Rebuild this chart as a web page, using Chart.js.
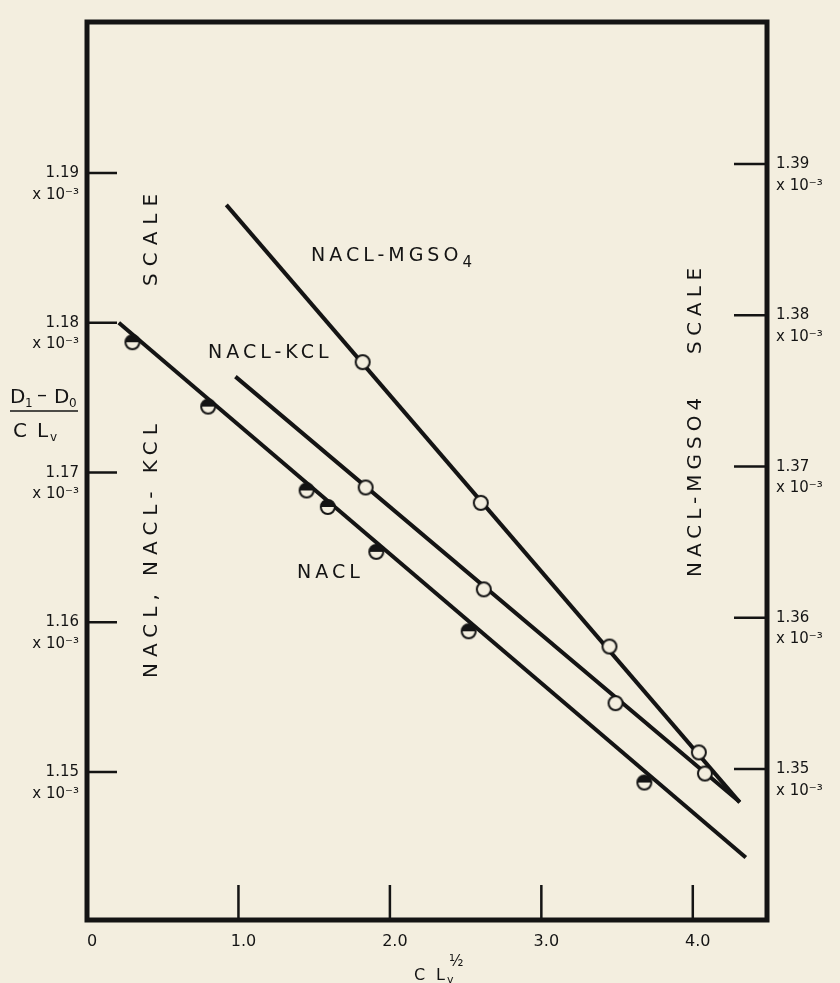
<!DOCTYPE html>
<html>
<head>
<meta charset="utf-8">
<script src="https://cdn.jsdelivr.net/npm/chart.js@4"></script>
<style>
  html, body { margin: 0; padding: 0; background: #f3eedf; }
  canvas { display: block; }
</style>
</head>
<body>
<canvas id="chart" width="840" height="983"></canvas>
<script>
// (D1 - D0) / (C Lv), in units of 10^-3, against C Lv ^ 1/2
const naclX = [0.30, 0.80, 1.45, 1.59, 1.91, 2.52, 3.68];
const naclY = [1.1787, 1.1744, 1.1688, 1.1677, 1.1647, 1.1594, 1.1493];
const kclX = [1.84, 2.62, 3.49, 4.08];
const kclY = [1.1690, 1.1622, 1.1546, 1.1499];
const mgso4X = [1.82, 2.60, 3.45, 4.04];
const mgso4Y = [1.3769, 1.3676, 1.3581, 1.3511];   // right hand scale

// drawn straight lines, end points
const naclFitX = [0.21, 4.35];
const naclFitY = [1.1800, 1.1443];
const kclFitX = [0.98, 4.31];
const kclFitY = [1.1764, 1.1480];
const mgso4FitX = [0.92, 4.31];
const mgso4FitY = [1.3873, 1.3478];

const xTicks = [0, 1, 2, 3, 4];
const leftTicks = [1.15, 1.16, 1.17, 1.18, 1.19];
const rightTicks = [1.35, 1.36, 1.37, 1.38, 1.39];

const BG = '#f3eedf';
const INK = '#141414';
const FONT = '"DejaVu Sans", sans-serif';

const pts = (xs, ys) => xs.map((x, i) => ({ x: x, y: ys[i] }));

// marker pictures: open circle and top-half-filled circle
function makeMarker(half) {
    const c = document.createElement('canvas');
    c.width = 20;
    c.height = 20;
    const g = c.getContext('2d');
    g.beginPath();
    g.arc(10, 10, 7, 0, Math.PI * 2);
    g.fillStyle = BG;
    g.fill();
    if (half) {
        g.beginPath();
        g.arc(10, 10, 7, Math.PI, 0);
        g.closePath();
        g.fillStyle = INK;
        g.fill();
    }
    g.beginPath();
    g.arc(10, 10, 7, 0, Math.PI * 2);
    g.lineWidth = 2;
    g.strokeStyle = INK;
    g.stroke();
    return c;
}
const openMarker = makeMarker(false);
const halfMarker = makeMarker(true);

function text(ctx, str, x, y, size, spacing, rotate) {
    ctx.save();
    ctx.font = size + 'px ' + FONT;
    ctx.letterSpacing = (spacing || 0) + 'px';
    ctx.fillStyle = INK;
    ctx.textAlign = 'left';
    ctx.textBaseline = 'alphabetic';
    ctx.translate(x, y);
    if (rotate) ctx.rotate(-Math.PI / 2);
    ctx.fillText(str, 0, 0);
    const w = ctx.measureText(str).width;
    ctx.restore();
    return w;
}

// no extra room for edge labels, the axes keep fixed sizes
function noPad(scale) {
    scale.paddingTop = 0;
    scale.paddingBottom = 0;
    scale.paddingLeft = 0;
    scale.paddingRight = 0;
}

// ticks pointing inwards, the frame, and the lettering
const decorPlugin = {
    id: 'decor',
    beforeDatasetsDraw(chart) {
        const ctx = chart.ctx;
        const a = chart.chartArea;
        const s = chart.scales;
        ctx.save();
        ctx.strokeStyle = INK;
        ctx.lineWidth = 2.5;
        ctx.beginPath();
        s.y.ticks.forEach(t => {
            const py = s.y.getPixelForValue(t.value);
            ctx.moveTo(a.left, py);
            ctx.lineTo(a.left + 30, py);
        });
        s.y2.ticks.forEach(t => {
            const py = s.y2.getPixelForValue(t.value);
            ctx.moveTo(a.right, py);
            ctx.lineTo(a.right - 33, py);
        });
        s.x.ticks.forEach(t => {
            if (t.value === 0) return;
            const px = s.x.getPixelForValue(t.value);
            ctx.moveTo(px, a.bottom);
            ctx.lineTo(px, a.bottom - 35);
        });
        ctx.stroke();
        ctx.restore();
    },
    afterDraw(chart) {
        const ctx = chart.ctx;
        const a = chart.chartArea;
        ctx.save();
        ctx.strokeStyle = INK;
        ctx.lineWidth = 5;
        ctx.strokeRect(a.left, a.top, a.right - a.left, a.bottom - a.top);
        ctx.restore();

        // curve labels
        let w = text(ctx, 'NACL-MGSO', 311, 261, 19, 4);
        text(ctx, '4', 311 + w, 267, 15, 0);
        text(ctx, 'NACL-KCL', 208, 358, 19, 4);
        text(ctx, 'NACL', 297, 578, 19, 4);

        // scale labels, reading upwards
        text(ctx, 'NACL, NACL- KCL', 157, 678, 20, 6, true);
        text(ctx, 'SCALE', 157, 286, 20, 7, true);
        text(ctx, 'NACL-MGSO4', 701, 577, 20, 5, true);
        text(ctx, 'SCALE', 701, 354, 20, 5.5, true);

        // y title as a fraction
        text(ctx, 'D', 10, 403, 20, 0);
        text(ctx, '1', 25, 407, 12, 0);
        text(ctx, '\u2013', 37, 401, 20, 0);
        text(ctx, 'D', 54, 403, 20, 0);
        text(ctx, '0', 69, 407, 12, 0);
        ctx.save();
        ctx.strokeStyle = INK;
        ctx.lineWidth = 1.5;
        ctx.beginPath();
        ctx.moveTo(10, 411);
        ctx.lineTo(78, 411);
        ctx.stroke();
        ctx.restore();
        text(ctx, 'C', 13, 437, 20, 0);
        text(ctx, 'L', 37, 437, 20, 0);
        text(ctx, 'v', 50, 441, 12, 0);

        // x title
        text(ctx, 'C', 414, 980, 16, 0);
        text(ctx, 'L', 436, 980, 16, 0);
        text(ctx, 'v', 447, 983, 11, 0);
        text(ctx, '\u00bd', 449, 966, 15, 0);
    }
};

const tickFont = { family: FONT, size: 15, lineHeight: 1.43 };

new Chart(document.getElementById('chart'), {
    type: 'scatter',
    data: {
        datasets: [
            {
                label: 'NACL',
                data: pts(naclX, naclY),
                yAxisID: 'y',
                pointStyle: halfMarker,
                order: 0
            },
            {
                label: 'NACL-KCL',
                data: pts(kclX, kclY),
                yAxisID: 'y',
                pointStyle: openMarker,
                order: 0
            },
            {
                label: 'NACL-MGSO4',
                data: pts(mgso4X, mgso4Y),
                yAxisID: 'y2',
                pointStyle: openMarker,
                order: 0
            },
            {
                label: 'NACL line',
                data: pts(naclFitX, naclFitY),
                yAxisID: 'y',
                showLine: true,
                borderColor: INK,
                borderWidth: 4,
                pointRadius: 0,
                order: 1
            },
            {
                label: 'NACL-KCL line',
                data: pts(kclFitX, kclFitY),
                yAxisID: 'y',
                showLine: true,
                borderColor: INK,
                borderWidth: 4,
                pointRadius: 0,
                order: 1
            },
            {
                label: 'NACL-MGSO4 line',
                data: pts(mgso4FitX, mgso4FitY),
                yAxisID: 'y2',
                showLine: true,
                borderColor: INK,
                borderWidth: 4,
                pointRadius: 0,
                order: 1
            }
        ]
    },
    options: {
        responsive: false,
        animation: false,
        devicePixelRatio: 1,
        layout: { padding: { top: 22, left: 0, right: 0, bottom: 0 } },
        plugins: {
            legend: { display: false },
            tooltip: { enabled: false }
        },
        scales: {
            x: {
                type: 'linear',
                position: 'bottom',
                min: 0,
                max: 4.49,
                afterBuildTicks: scale => { scale.ticks = xTicks.map(v => ({ value: v })); },
                afterFit: scale => { scale.height = 63; noPad(scale); },
                grid: { display: false, drawTicks: false },
                border: { display: false },
                ticks: {
                    autoSkip: false,
                    maxRotation: 0,
                    padding: 12,
                    labelOffset: 5,
                    color: INK,
                    font: { family: FONT, size: 16 },
                    callback: v => v === 0 ? '0' : v.toFixed(1)
                }
            },
            y: {
                type: 'linear',
                position: 'left',
                min: 1.14012,
                max: 1.20008,
                afterBuildTicks: scale => { scale.ticks = leftTicks.map(v => ({ value: v })); },
                afterFit: scale => { scale.width = 87; noPad(scale); },
                grid: { display: false, drawTicks: false },
                border: { display: false },
                ticks: {
                    autoSkip: false,
                    padding: 8,
                    labelOffset: 11,
                    color: INK,
                    font: tickFont,
                    callback: v => [v.toFixed(2), 'x 10\u207b\u00b3']
                }
            },
            y2: {
                type: 'linear',
                position: 'right',
                min: 1.34002,
                max: 1.39939,
                afterBuildTicks: scale => { scale.ticks = rightTicks.map(v => ({ value: v })); },
                afterFit: scale => { scale.width = 73; noPad(scale); },
                grid: { display: false, drawTicks: false },
                border: { display: false },
                ticks: {
                    autoSkip: false,
                    padding: 9,
                    labelOffset: 11,
                    color: INK,
                    font: tickFont,
                    callback: v => [v.toFixed(2), 'x 10\u207b\u00b3']
                }
            }
        }
    },
    plugins: [decorPlugin]
});
</script>
</body>
</html>
